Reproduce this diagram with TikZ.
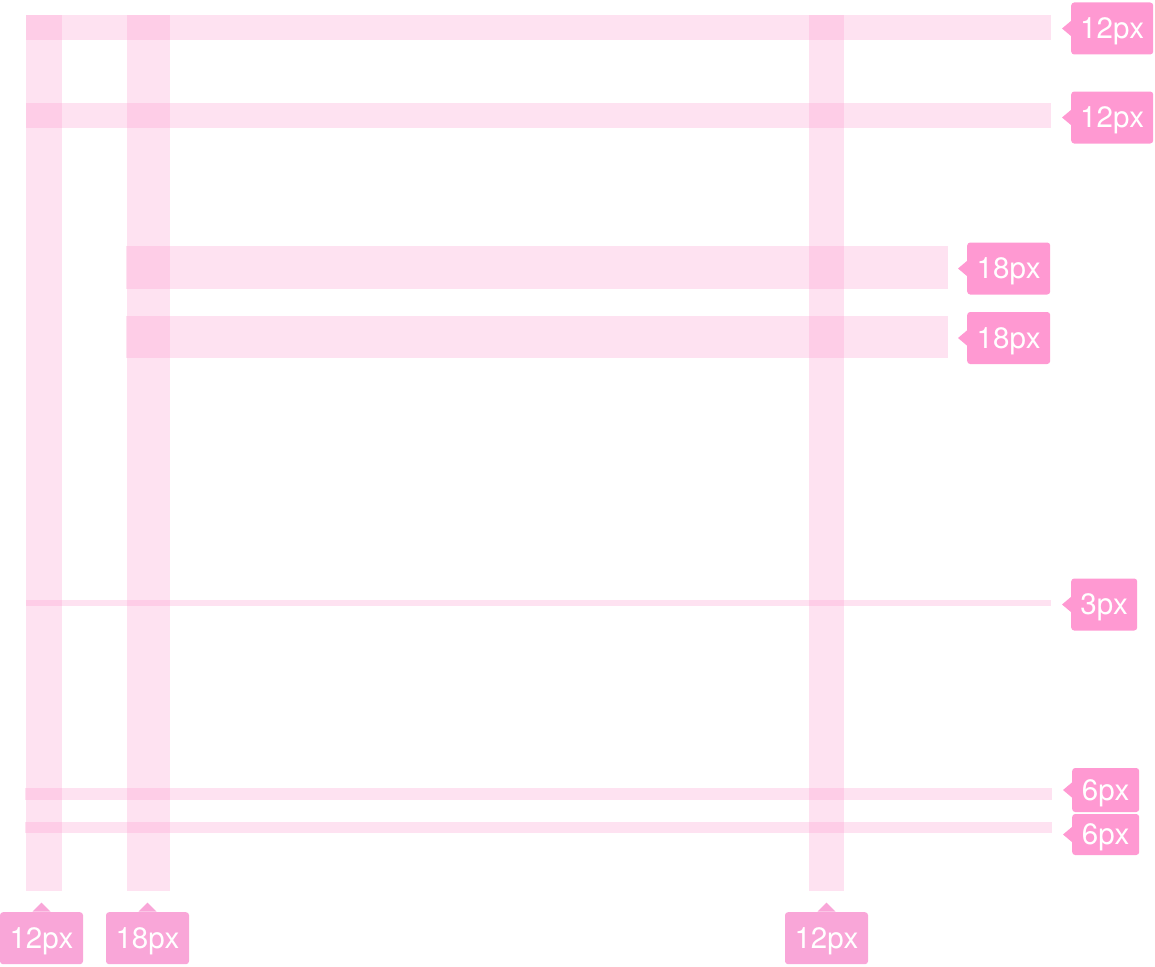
\documentclass[tikz,border=0pt]{standalone}
\usepackage{fontspec}
\setmainfont{TeX Gyre Heros}
\definecolor{barc}{RGB}{252,150,205}
\definecolor{tagc}{RGB}{255,153,210}
\definecolor{tagb}{RGB}{249,166,216}
\tikzset{
  bar/.style={fill=barc, fill opacity=0.28},
  tag/.style={fill=tagc, rounded corners=3pt, text=white, inner sep=0pt,
    font=\fontsize{29.5}{30}\selectfont, text depth=0pt, minimum height=52pt},
  tagbot/.style={tag, fill=tagb},
  tip/.style={fill=tagc},
  tipbot/.style={fill=tagb}
}
\begin{document}
\begin{tikzpicture}[x=1pt,y=-1pt]
\useasboundingbox (0,0) rectangle (1155,966);
% horizontal bars
\fill[bar] (26,15) rectangle (1051,40);
\fill[bar] (26,103) rectangle (1051,128);
\fill[bar] (126,246) rectangle (948,289);
\fill[bar] (126,316) rectangle (948,358);
\fill[bar] (26,600) rectangle (1051,606);
\fill[bar] (25,788) rectangle (1052,800);
\fill[bar] (25,822) rectangle (1052,833);
% vertical bars
\fill[bar] (26,15) rectangle (62,891);
\fill[bar] (127,15) rectangle (170,891);
\fill[bar] (809,15) rectangle (844,891);
% right tags
\node[tag, minimum width=82pt, anchor=west] (t1) at (1071,28.5) {12px};
\node[tag, minimum width=82pt, anchor=west] (t2) at (1071,117.5) {12px};
\node[tag, minimum width=83pt, anchor=west] (t3) at (967,268.5) {18px};
\node[tag, minimum width=83pt, anchor=west] (t4) at (967,338) {18px};
\node[tag, minimum width=66pt, anchor=west] (t5) at (1071,604.5) {3px};
\node[tag, minimum width=67pt, minimum height=44pt, anchor=west] (t6) at (1072,790) {6px};
\node[tag, minimum width=67pt, minimum height=41pt, anchor=west] (t7) at (1072,834.5) {6px};
\foreach \t in {t1,t2,t3,t4,t5,t6,t7}{
  \fill[tip] ([yshift=8pt,xshift=0.5pt]\t.west) -- ++(-9.5,8) -- ++(9.5,8) -- cycle;
}
% bottom tags
\node[tagbot, minimum width=83pt, anchor=north] (b1) at (41.5,912) {12px};
\node[tagbot, minimum width=83pt, anchor=north] (b2) at (147.5,912) {18px};
\node[tagbot, minimum width=83pt, anchor=north] (b3) at (826.5,912) {12px};
\foreach \t in {b1,b2,b3}{
  \fill[tipbot] ([xshift=-9pt,yshift=0.5pt]\t.north) -- ++(9,-9) -- ++(9,9) -- cycle;
}
\end{tikzpicture}
\end{document}
